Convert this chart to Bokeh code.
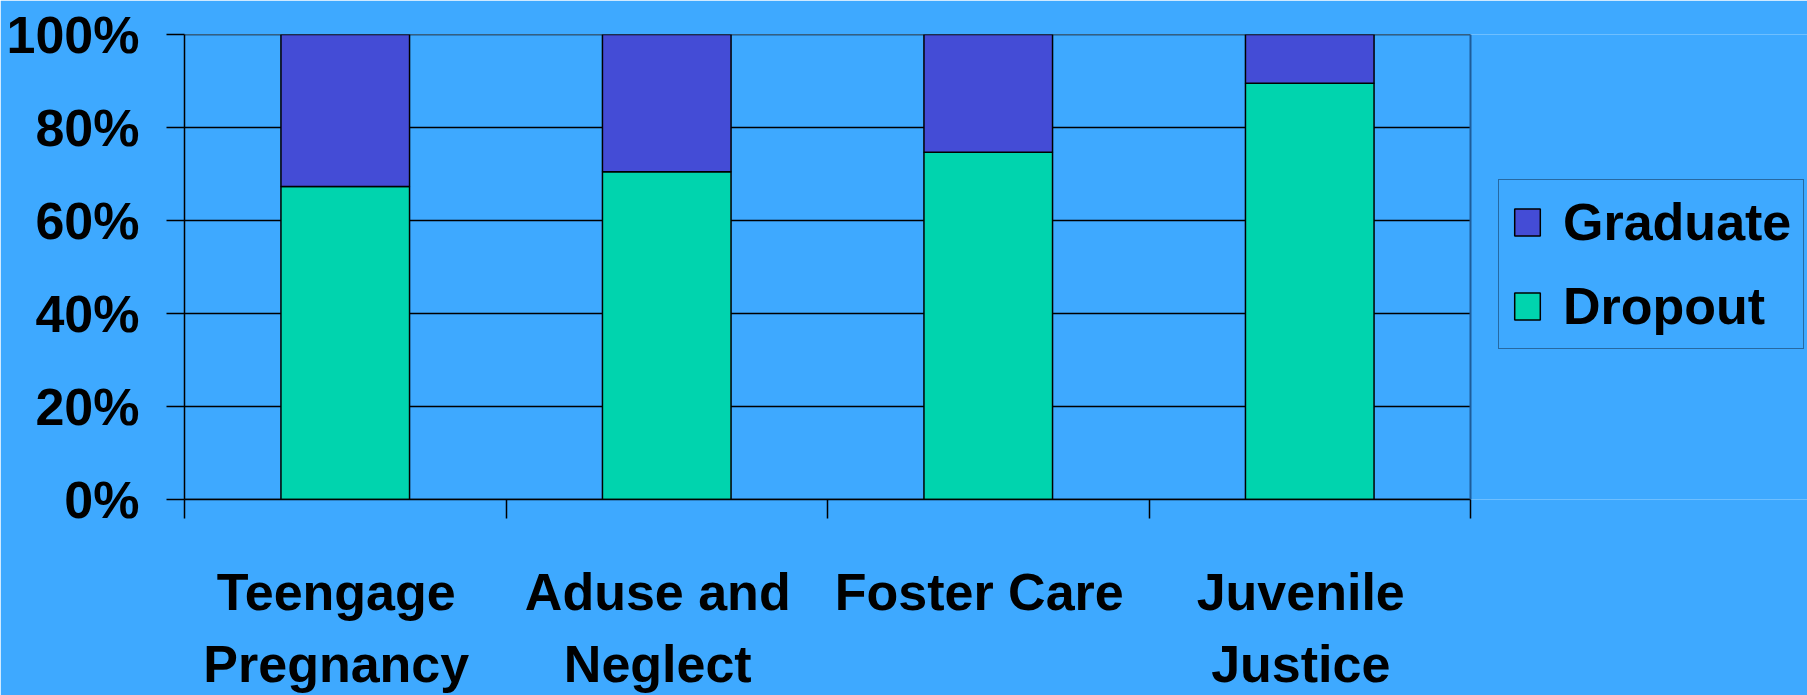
import numpy as np
from bokeh.plotting import figure
from bokeh.models import (ColumnDataSource, Range1d, FixedTicker,
                          NumeralTickFormatter, LinearAxis,
                          Legend, LegendItem, Span)
from bokeh.embed import file_html
from bokeh.resources import INLINE

# Share of students (%) in each group who drop out / graduate
categories = ["Teengage\nPregnancy", "Aduse and\nNeglect", "Foster Care", "Juvenile\nJustice"]
dropout = [67.3, 70.5, 74.7, 89.5]
graduate = [32.7, 29.5, 25.3, 10.5]
y_ticks = [0, 20, 40, 60, 80, 100]

BG = "#3EA9FF"
GRAD_COLOR = "#444CD6"
DROP_COLOR = "#00D4AE"
FONT = "Liberation Sans"
FONT_SIZE = "52px"

# layout: the chart area is 1286 px wide; the frame continues to the right
# edge of the canvas so the legend can sit next to the bars
LEFT, TOP, BOTTOM = 184, 34, 196
W, H = 1807, 695
CHART_PX = 1286
LABEL_SHIFT_PX = -9          # category names sit slightly left of the bars

n = len(categories)
centers = [i + 0.5 for i in range(n)]          # one unit per category
px_per_unit = CHART_PX / n
x_end = (W - LEFT) / px_per_unit
label_pos = [c + LABEL_SHIFT_PX / px_per_unit for c in centers]

src = ColumnDataSource(dict(
    x=centers,
    dropout=np.array(dropout) / 100.0,
    graduate=np.array(graduate) / 100.0,
))

p = figure(width=W, height=H, output_backend="svg", toolbar_location=None,
           x_range=Range1d(0, x_end), y_range=Range1d(0, 1), x_axis_location=None,
           min_border_left=LEFT, min_border_right=0,
           min_border_top=TOP, min_border_bottom=BOTTOM,
           background_fill_color=BG, border_fill_color=BG,
           outline_line_color=None)
p.xgrid.visible = False
p.ygrid.visible = False

# horizontal grid lines across the chart area only
tick_vals = [t / 100.0 for t in y_ticks]
p.segment(x0=0, x1=n, y0=tick_vals, y1=tick_vals, line_color="black",
          line_width=1.5, level="underlay")

stack = p.vbar_stack(["dropout", "graduate"], x="x", width=0.4, source=src,
                     fill_color=[DROP_COLOR, GRAD_COLOR],
                     line_color="black", line_width=1.5)

# y axis: percentages with outward ticks
p.yaxis.ticker = FixedTicker(ticks=tick_vals)
p.yaxis.formatter = NumeralTickFormatter(format="0%")
p.yaxis.major_tick_out = 18
p.yaxis.major_tick_in = 0
p.yaxis.minor_tick_line_color = None
p.yaxis.major_tick_line_color = "black"
p.yaxis.major_tick_line_width = 1.5
p.yaxis.axis_line_color = "black"
p.yaxis.axis_line_width = 1.5
p.yaxis.major_label_text_font = FONT
p.yaxis.major_label_text_font_size = FONT_SIZE
p.yaxis.major_label_text_font_style = "bold"
p.yaxis.major_label_text_color = "black"
p.yaxis.major_label_standoff = 27

# x axis line with ticks at the category boundaries
edge_axis = LinearAxis(ticker=FixedTicker(ticks=list(range(n + 1))),
                       bounds=(0, n),
                       major_label_overrides={i: "" for i in range(n + 1)},
                       major_label_text_font_size="0px",
                       major_label_standoff=0,
                       major_tick_out=19, major_tick_in=0,
                       minor_tick_line_color=None,
                       major_tick_line_color="black", major_tick_line_width=1.5,
                       axis_line_color="black", axis_line_width=1.5)
p.add_layout(edge_axis, "below")

# category names under the bars, one axis per text line
line1 = [c.split("\n")[0] for c in categories]
line2 = [c.split("\n")[1] if "\n" in c else "" for c in categories]
for lines, standoff in ((line1, 44), (line2, 11)):
    ax = LinearAxis(ticker=FixedTicker(ticks=label_pos),
                    major_label_overrides=dict(zip(label_pos, lines)),
                    axis_line_color=None, major_tick_line_color=None,
                    minor_tick_line_color=None,
                    major_tick_in=0, major_tick_out=0,
                    major_label_standoff=standoff,
                    major_label_text_font=FONT,
                    major_label_text_font_size=FONT_SIZE,
                    major_label_text_font_style="bold",
                    major_label_text_color="black")
    p.add_layout(ax, "below")

# right edge of the chart area
p.add_layout(Span(location=n, dimension="height", line_color="#1E5C99", line_width=2))

legend = Legend(
    items=[LegendItem(label="Graduate", renderers=[stack[1]]),
           LegendItem(label="Dropout", renderers=[stack[0]])],
    location=(1314, 150),
    label_text_font=FONT, label_text_font_size=FONT_SIZE,
    label_text_font_style="bold", label_text_color="black",
    glyph_width=32, glyph_height=34, label_standoff=20,
    padding=12, spacing=24,
    border_line_color="#0E2A45", border_line_width=1.5,
    background_fill_color=BG, background_fill_alpha=1.0,
)
p.add_layout(legend)

open("out.html", "w").write(file_html(p, INLINE))
